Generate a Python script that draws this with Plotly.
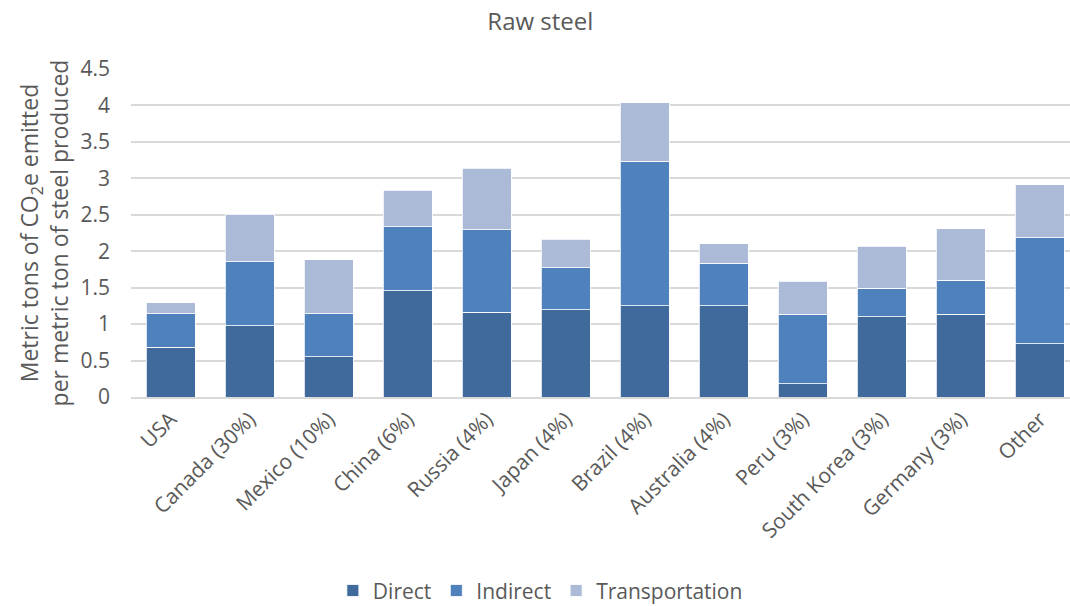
import plotly.graph_objects as go

# Emissions intensity by source country (t CO2e per t raw steel)
categories = ["USA", "Canada (30%)", "Mexico (10%)", "China (6%)", "Russia (4%)",
              "Japan (4%)", "Brazil (4%)", "Australia (4%)", "Peru (3%)",
              "South Korea (3%)", "Germany (3%)", "Other"]
direct = [0.68, 0.98, 0.555, 1.46, 1.16, 1.195, 1.255, 1.255, 0.185, 1.10, 1.135, 0.73]
indirect = [0.46, 0.875, 0.59, 0.875, 1.135, 0.58, 1.98, 0.58, 0.95, 0.39, 0.465, 1.455]
transportation = [0.15, 0.655, 0.74, 0.505, 0.845, 0.39, 0.80, 0.265, 0.455, 0.575, 0.705, 0.73]

y_ticks = [0, 0.5, 1, 1.5, 2, 2.5, 3, 3.5, 4, 4.5]
y_tick_text = ["0", "0.5", "1", "1.5", "2", "2.5", "3", "3.5", "4", "4.5"]

FONT = "Open Sans"
GREY = "#595959"

series = [
    ("Direct", direct, "#3F6A9B"),
    ("Indirect", indirect, "#4F81BD"),
    ("Transportation", transportation, "#ABBAD7"),
]

fig = go.Figure()
for name, vals, color in series:
    fig.add_trace(go.Bar(
        name=name, x=categories, y=vals,
        marker=dict(color=color, line=dict(color="#FFFFFF", width=0.8)),
        width=0.62,
    ))

fig.update_layout(
    barmode="stack",
    width=1070, height=606,
    paper_bgcolor="white", plot_bgcolor="white",
    margin=dict(l=131, r=0, t=69, b=209),
    font=dict(family=FONT, color=GREY, size=20),
    title=dict(text="Raw steel", x=0.505, xref="container", xanchor="center",
               y=0.965, yanchor="middle",
               font=dict(family=FONT, size=24, color=GREY)),
    showlegend=True,
    legend=dict(orientation="h", x=0.505, xref="container", xanchor="center",
                y=0.025, yref="container", yanchor="middle",
                font=dict(family=FONT, size=21, color=GREY),
                itemwidth=30, traceorder="normal"),
    bargap=0.38,
)

fig.update_xaxes(
    type="category", range=[-0.5, 11.38],
    tickangle=-45, tickfont=dict(family=FONT, size=21, color=GREY),
    showgrid=False, showline=True, linecolor="#D9D9D9", linewidth=1.5,
    ticks="", fixedrange=True,
)
fig.update_yaxes(
    range=[0, 4.5], tickvals=y_ticks, ticktext=y_tick_text,
    tickfont=dict(family=FONT, size=21, color=GREY),
    showgrid=True, gridcolor="#D9D9D9", gridwidth=1.5,
    zeroline=False, showline=False, ticks="", ticklabelstandoff=20,
    title=dict(text="Metric tons of CO<sub>2</sub>e emitted<br>per metric ton of steel produced",
               font=dict(family=FONT, size=23, color=GREY), standoff=5),
)

fig.write_html("out.html")
